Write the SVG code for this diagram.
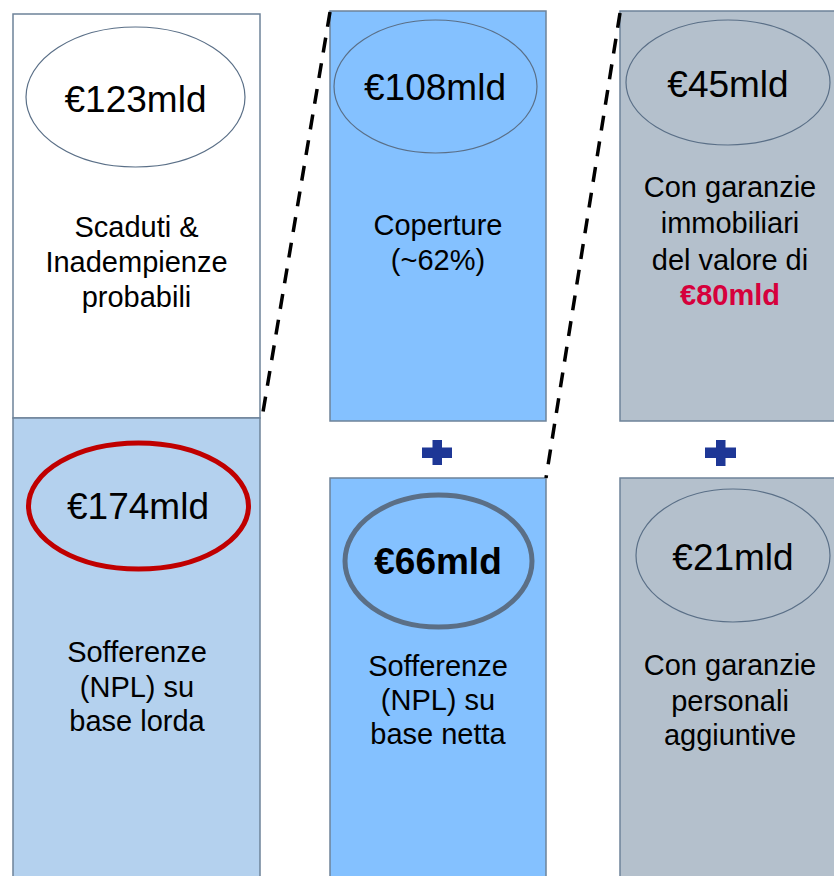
<svg xmlns="http://www.w3.org/2000/svg" width="834" height="876" viewBox="0 0 834 876">
<style>
.box{stroke:#6E8399;stroke-width:1.5}
.ell{fill:none;stroke:#5A6F87;stroke-width:1.2}
.val{font-family:"Liberation Sans",Arial,sans-serif;font-size:37px;fill:#000;text-anchor:middle}
.txt{font-family:"Liberation Sans",Arial,sans-serif;font-size:29px;fill:#000;text-anchor:middle}
.txt.hl{fill:#D6003C;font-weight:bold}
.dash{stroke:#000;stroke-width:3.5;stroke-dasharray:15 11;fill:none}
.plus{fill:#1E3796}
</style>
<rect width="834" height="876" fill="#fff"/>
<g id="scaduti">
<rect class="box" x="13" y="14" width="247" height="404" fill="#fff"/>
<ellipse class="ell" cx="135.5" cy="97" rx="109.5" ry="70"/>
<text class="val" x="135.5" y="112">€123mld</text>
<text class="txt" x="136.5" y="237">Scaduti &amp;</text>
<text class="txt" x="136.5" y="272">Inadempienze</text>
<text class="txt" x="136.5" y="307">probabili</text>
</g>
<g id="lorda">
<rect class="box" x="13" y="418" width="247" height="470" fill="#B4D1EE"/>
<ellipse cx="138.5" cy="506" rx="110" ry="63" fill="none" stroke="#C00000" stroke-width="5"/>
<text class="val" x="138" y="519">€174mld</text>
<text class="txt" x="137" y="662">Sofferenze</text>
<text class="txt" x="137" y="697">(NPL) su</text>
<text class="txt" x="137" y="731">base lorda</text>
</g>
<g id="coperture">
<rect class="box" x="330" y="11" width="216" height="410" fill="#84C1FF"/>
<ellipse class="ell" cx="435.5" cy="86.5" rx="101.5" ry="66.5"/>
<text class="val" x="435" y="100">€108mld</text>
<text class="txt" x="438" y="235">Coperture</text>
<text class="txt" x="438" y="270">(~62%)</text>
</g>
<g id="netta">
<rect class="box" x="330" y="478" width="216" height="410" fill="#84C1FF"/>
<ellipse cx="438.5" cy="561" rx="93.5" ry="66" fill="none" stroke="#5B6F86" stroke-width="5"/>
<text class="val" x="438" y="574" font-weight="bold">€66mld</text>
<text class="txt" x="438" y="676">Sofferenze</text>
<text class="txt" x="438" y="710">(NPL) su</text>
<text class="txt" x="438" y="744">base netta</text>
</g>
<g id="immobiliari">
<rect class="box" x="620" y="11" width="230" height="410" fill="#B4C0CC"/>
<ellipse class="ell" cx="728" cy="82.5" rx="102" ry="62.5"/>
<text class="val" x="728" y="97">€45mld</text>
<text class="txt" x="730" y="197">Con garanzie</text>
<text class="txt" x="730" y="233">immobiliari</text>
<text class="txt" x="730" y="270">del valore di</text>
<text class="txt hl" x="730" y="305">€80mld</text>
</g>
<g id="personali">
<rect class="box" x="620" y="478" width="230" height="410" fill="#B4C0CC"/>
<ellipse class="ell" cx="733" cy="555.5" rx="97" ry="66.5"/>
<text class="val" x="733" y="570">€21mld</text>
<text class="txt" x="730" y="675">Con garanzie</text>
<text class="txt" x="730" y="711">personali</text>
<text class="txt" x="730" y="745">aggiuntive</text>
</g>
<g id="plus1">
<rect class="plus" x="422" y="447.5" width="30" height="10.5"/>
<rect class="plus" x="432.5" y="440" width="9.5" height="25"/>
</g>
<g id="plus2">
<rect class="plus" x="705" y="447.5" width="31" height="10.5"/>
<rect class="plus" x="716" y="440" width="9.5" height="26"/>
</g>
<g id="connectors">
<line class="dash" x1="330" y1="12" x2="262" y2="418"/>
<line class="dash" x1="620" y1="13" x2="546" y2="478"/>
</g>
</svg>
